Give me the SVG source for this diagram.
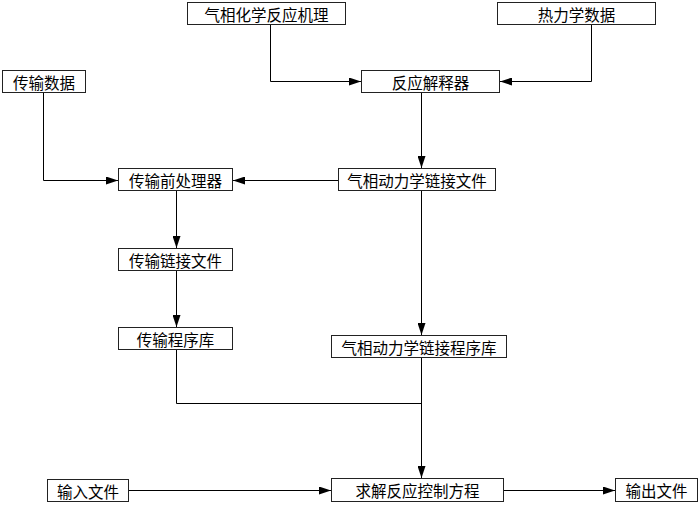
<svg xmlns="http://www.w3.org/2000/svg" width="699" height="507" viewBox="0 0 699 507">
<style>
.box{fill:#fff;stroke:#222;stroke-width:1}
.t{font-family:"Noto Sans CJK SC","Noto Sans CJK JP",sans-serif;font-size:15.5px;fill:#000;text-anchor:middle;dominant-baseline:central}
.c{fill:none;stroke:#000;stroke-width:1}
</style>
<defs>
<marker id="a" viewBox="0 0 12 8" refX="12" refY="4" markerWidth="12" markerHeight="8" markerUnits="userSpaceOnUse" orient="auto">
<path d="M0,0 L12,4 L0,8 Z" fill="#000"/>
</marker>
</defs>
<g id="connectors">
<path class="c" d="M270.5,25 V81.5 H361" marker-end="url(#a)"/>
<path class="c" d="M591.5,25 V81.5 H500" marker-end="url(#a)"/>
<path class="c" d="M421.5,92 V168" marker-end="url(#a)"/>
<path class="c" d="M43.5,92 V180.5 H118" marker-end="url(#a)"/>
<path class="c" d="M338,180.5 H233" marker-end="url(#a)"/>
<path class="c" d="M176.5,190 V248" marker-end="url(#a)"/>
<path class="c" d="M176.5,271 V327" marker-end="url(#a)"/>
<path class="c" d="M421.5,190 V335" marker-end="url(#a)"/>
<path class="c" d="M176.5,349 V403.5 H421.5"/>
<path class="c" d="M421.5,358 V478" marker-end="url(#a)"/>
<path class="c" d="M129,490.5 H331" marker-end="url(#a)"/>
<path class="c" d="M504,490.5 H615" marker-end="url(#a)"/>
</g>
<g id="n1"><rect class="box" x="187.5" y="2.5" width="158" height="22"/><text class="t" x="266.5" y="13.5">气相化学反应机理</text></g>
<g id="n2"><rect class="box" x="497.5" y="2.5" width="158" height="22"/><text class="t" x="576.5" y="13.5">热力学数据</text></g>
<g id="n3"><rect class="box" x="2.5" y="70.5" width="83" height="22"/><text class="t" x="44" y="81.5">传输数据</text></g>
<g id="n4"><rect class="box" x="361.5" y="70.5" width="138" height="22"/><text class="t" x="430.5" y="81.5">反应解释器</text></g>
<g id="n5"><rect class="box" x="118.5" y="168.5" width="114" height="22"/><text class="t" x="175.5" y="179.5">传输前处理器</text></g>
<g id="n6"><rect class="box" x="338.5" y="168.5" width="157" height="22"/><text class="t" x="417" y="179.5">气相动力学链接文件</text></g>
<g id="n7"><rect class="box" x="118.5" y="248.5" width="114" height="22"/><text class="t" x="175.5" y="259.5">传输链接文件</text></g>
<g id="n8"><rect class="box" x="118.5" y="327.5" width="114" height="22"/><text class="t" x="175.5" y="338.5">传输程序库</text></g>
<g id="n9"><rect class="box" x="331.5" y="335.5" width="175" height="22"/><text class="t" x="419" y="346.5">气相动力学链接程序库</text></g>
<g id="n10"><rect class="box" x="47.5" y="479.5" width="81" height="22"/><text class="t" x="88" y="490.5">输入文件</text></g>
<g id="n11"><rect class="box" x="331.5" y="478.5" width="172" height="23"/><text class="t" x="417.5" y="490">求解反应控制方程</text></g>
<g id="n12"><rect class="box" x="615.5" y="478.5" width="82" height="23"/><text class="t" x="656.5" y="490">输出文件</text></g>
</svg>
